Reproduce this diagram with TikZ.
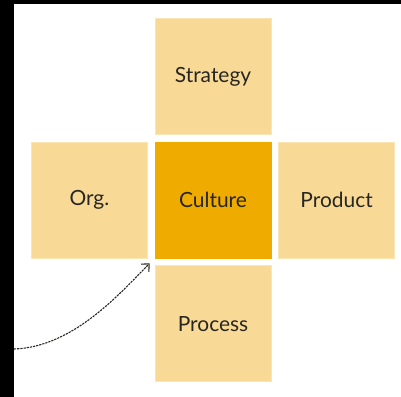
\documentclass[tikz,border=0pt]{standalone}
\usepackage{fontspec}
\setmainfont{Lato}
\usetikzlibrary{positioning,arrows.meta}
\definecolor{lightgold}{RGB}{248,218,150}
\definecolor{gold}{RGB}{240,171,0}
\definecolor{ink}{RGB}{40,38,34}
\begin{document}
\begin{tikzpicture}[x=1bp,y=-1bp,font=\fontsize{21}{24}\selectfont,
	box/.style={fill=lightgold,draw=lightgold!70!white,line width=0.6bp,minimum size=116bp,inner sep=0pt,text=ink},
	conn/.style={dash pattern=on 2.2bp off 1bp,line width=1.1bp,ink,-{Straight Barb[length=6bp,width=11bp]},shorten >=7bp}]
	%frame
	\useasboundingbox (0,0) rectangle (401,397);
	\fill[black] (0,0) rectangle (14,397);
	\fill[black] (0,0) rectangle (401,4);

	%boxes
	\node[box,fill=gold,draw=gold] (culture) at (213,200) {Culture};
	\node[box,above=7bp of culture] (strategy) {Strategy};
	\node[box,left=7bp of culture] (org) {Org.};
	\node[box,right=7bp of culture] (product) {Product};
	\node[box,below=7bp of culture] (process) {Process};

	%arrow
	\coordinate (start) at (14,349);
	\draw[conn] (start) .. controls +(60,-2) and +(-34,34) .. (culture.south west);
\end{tikzpicture}
\end{document}
